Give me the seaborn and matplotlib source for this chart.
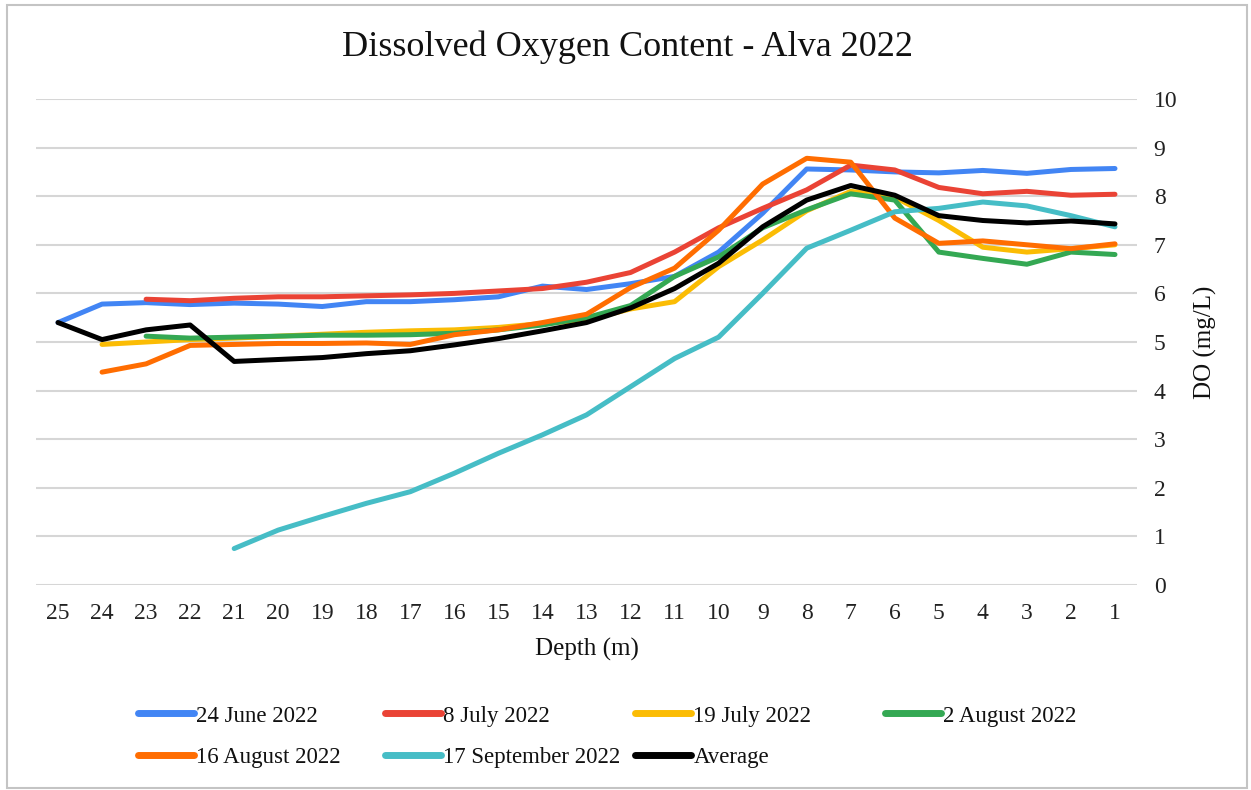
import numpy as np
import pandas as pd
import matplotlib
matplotlib.use("Agg")
import matplotlib.pyplot as plt
from matplotlib.patches import Rectangle
import seaborn as sns

nan = np.nan

# Depth below surface (m), listed from deepest to shallowest
depth = [25, 24, 23, 22, 21, 20, 19, 18, 17, 16, 15, 14, 13,
         12, 11, 10, 9, 8, 7, 6, 5, 4, 3, 2, 1]

# Dissolved oxygen (mg/L) for each sampling date, aligned with `depth`
do_24_june = [5.40, 5.78, 5.81, 5.77, 5.80, 5.78, 5.73, 5.83, 5.83, 5.87, 5.93, 6.15, 6.08,
              6.20, 6.35, 6.85, 7.65, 8.56, 8.54, 8.50, 8.48, 8.53, 8.47, 8.55, 8.57]
do_8_july = [nan, nan, 5.88, 5.85, 5.90, 5.93, 5.93, 5.95, 5.97, 6.00, 6.05, 6.10, 6.23,
             6.43, 6.85, 7.35, 7.75, 8.13, 8.64, 8.54, 8.18, 8.05, 8.10, 8.02, 8.04]
do_19_july = [nan, 4.95, 5.00, 5.05, 5.08, 5.12, 5.16, 5.20, 5.23, 5.25, 5.30, 5.38, 5.45,
              5.68, 5.83, 6.55, 7.10, 7.70, 8.10, 7.98, 7.50, 6.95, 6.85, 6.92, 7.00]
do_2_august = [nan, nan, 5.12, 5.08, 5.10, 5.12, 5.14, 5.14, 5.15, 5.18, 5.25, 5.35, 5.50,
               5.75, 6.35, 6.75, 7.35, 7.72, 8.05, 7.92, 6.85, 6.72, 6.60, 6.85, 6.80]
do_16_august = [nan, 4.38, 4.55, 4.93, 4.95, 4.97, 4.97, 4.98, 4.95, 5.15, 5.25, 5.40, 5.57,
                6.12, 6.52, 7.30, 8.25, 8.78, 8.70, 7.55, 7.03, 7.08, 7.00, 6.92, 7.02]
do_17_september = [nan, nan, nan, nan, 0.75, 1.13, 1.41, 1.68, 1.92, 2.30, 2.71, 3.09, 3.50,
                   4.08, 4.66, 5.10, 6.00, 6.93, 7.30, 7.68, 7.75, 7.88, 7.80, 7.60, 7.37]
do_average = [5.40, 5.05, 5.25, 5.35, 4.60, 4.64, 4.68, 4.76, 4.82, 4.94, 5.07, 5.23, 5.40,
              5.70, 6.10, 6.62, 7.37, 7.92, 8.22, 8.02, 7.60, 7.50, 7.45, 7.49, 7.43]

series_names = ["24 June 2022", "8 July 2022", "19 July 2022", "2 August 2022",
                "16 August 2022", "17 September 2022", "Average"]
series_values = [do_24_june, do_8_july, do_19_july, do_2_august,
                 do_16_august, do_17_september, do_average]
series_colors = ["#4285F4", "#EA4335", "#FBBC04", "#34A853",
                 "#FF6D01", "#46BDC6", "#000000"]

y_ticks = [0, 1, 2, 3, 4, 5, 6, 7, 8, 9, 10]

# Long-form table for seaborn
frames = []
for name, vals in zip(series_names, series_values):
    frames.append(pd.DataFrame({"Depth": depth, "DO": vals, "Series": name}))
df = pd.concat(frames, ignore_index=True).dropna()

sns.set_theme(style="white")
plt.rcParams["font.family"] = ["Liberation Serif", "DejaVu Serif"]

fig = plt.figure(figsize=(12.51, 7.90), dpi=100)
ax = fig.add_axes([36 / 1251, 1 - 585 / 790, (1137 - 36) / 1251, (585 - 99) / 790])

sns.lineplot(data=df, x="Depth", y="DO", hue="Series", hue_order=series_names,
             palette=dict(zip(series_names, series_colors)), linewidth=3.6,
             ax=ax, legend=True, solid_capstyle="round", solid_joinstyle="round")

handles, labels = ax.get_legend_handles_labels()
ax.get_legend().remove()

# Axes: category-like depth axis from 25 (left) to 1 (right)
ax.set_xlim(25.5, 0.5)
ax.set_ylim(0, 10)
ax.set_xticks(depth)
ax.set_xticklabels([str(d) for d in depth])
ax.set_yticks(y_ticks)
ax.set_yticklabels([str(t) for t in y_ticks])
ax.yaxis.tick_right()
ax.yaxis.set_label_position("right")
ax.tick_params(axis="x", length=0, pad=13, labelsize=17, colors="#222222")
ax.tick_params(axis="y", length=0, pad=12, labelsize=17, colors="#222222")
for s in ax.spines.values():
    s.set_visible(False)
ax.grid(axis="y", color="#d6d6d6", linewidth=1.5)
ax.grid(axis="x", visible=False)
ax.set_axisbelow(True)

ax.set_xlabel("Depth (m)", fontsize=18, labelpad=10, color="#111111")
ax.set_ylabel("DO (mg/L)", fontsize=18, labelpad=12, color="#111111")

fig.text(627 / 1251, 1 - 47 / 790, "Dissolved Oxygen Content - Alva 2022",
         ha="center", va="center", fontsize=26, color="#111111")

# Legend entries laid out on a fixed grid of four columns
legend_slots = [(138, 716), (385, 716), (635, 716), (885, 716),
                (138, 757), (385, 757), (635, 757)]
for h, lab, (px, py) in zip(handles, labels, legend_slots):
    h.set_linewidth(5)
    h.set_solid_capstyle("round")
    leg = fig.legend(handles=[h], labels=[lab], loc="center left",
                     bbox_to_anchor=(px / 1251, 1 - py / 790), frameon=False,
                     fontsize=16.5, handlelength=2.45, handletextpad=0.1,
                     borderpad=0, borderaxespad=0)
    for t in leg.get_texts():
        t.set_color("#111111")

# Thin frame around the whole chart area
fig.patches.append(Rectangle((7 / 1251, 1 - 788 / 790), (1247 - 7) / 1251, (788 - 5) / 790,
                             transform=fig.transFigure, fill=False,
                             edgecolor="#c4c4c4", linewidth=1.5))

fig.savefig("out.png", dpi=100)
